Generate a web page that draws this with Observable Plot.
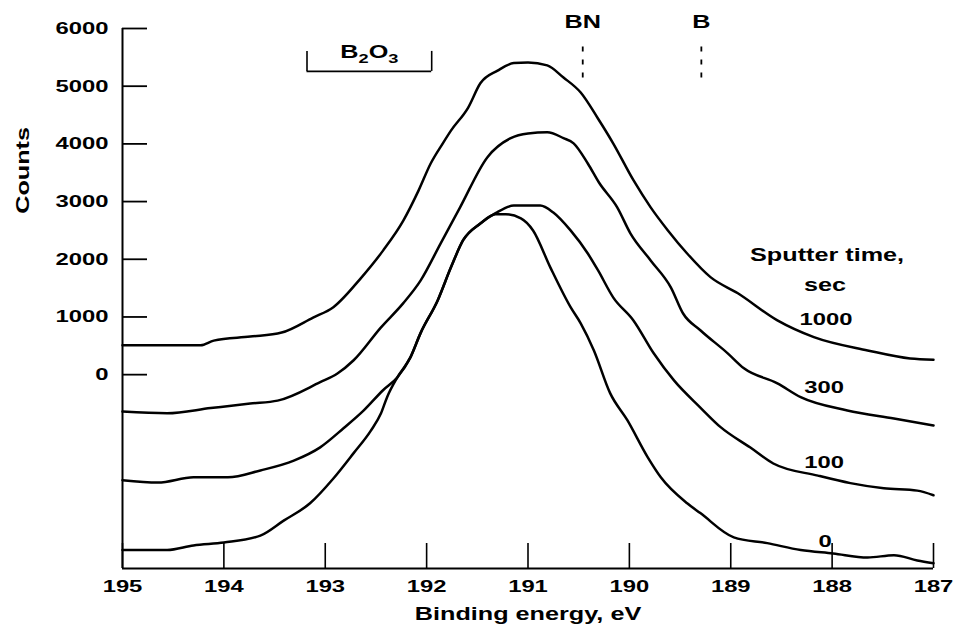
<!DOCTYPE html>
<html>
<head>
<meta charset="utf-8">
<script src="https://cdn.jsdelivr.net/npm/d3@7"></script>
<script src="https://cdn.jsdelivr.net/npm/@observablehq/plot@0.6"></script>
<style>
  html, body { margin: 0; padding: 0; background: #fff; }
  #chart svg { display: block; }
</style>
</head>
<body>
<div id="chart"></div>
<script>
// ---- Data (binding energy in eV, counts) ----
const energy1000 = [195.00,194.63,194.23,194.10,193.74,193.43,193.12,192.92,192.65,192.43,192.23,192.08,191.96,191.84,191.76,191.59,191.47,191.30,191.14,191.00,190.81,190.65,190.48,190.31,190.16,189.96,189.79,189.62,189.43,189.20,188.93,188.54,188.18,187.65,187.23,187.00];
const counts1000 = [510,510,510,590,660,730,990,1170,1670,2150,2670,3190,3660,4010,4230,4630,5050,5270,5400,5410,5360,5150,4890,4440,4010,3370,2900,2500,2100,1690,1410,940,650,420,280,260];

const energy300 = [195.00,194.56,194.13,193.74,193.47,193.05,192.88,192.72,192.45,192.23,192.06,191.86,191.67,191.40,191.17,191.00,190.81,190.65,190.55,190.41,190.30,190.12,189.99,189.79,189.59,189.47,189.30,189.03,188.87,188.54,188.31,187.85,187.39,187.00];
const counts300 = [-640,-670,-580,-500,-450,-130,20,250,820,1240,1630,2280,2900,3770,4100,4180,4200,4100,4010,3660,3330,2900,2450,1980,1510,1060,770,370,110,-150,-390,-620,-760,-880];

const energy100 = [195.00,194.65,194.30,193.96,193.64,193.31,193.05,192.82,192.62,192.43,192.29,192.16,192.06,191.89,191.76,191.64,191.47,191.32,191.14,190.88,190.75,190.58,190.41,190.31,190.16,189.96,189.76,189.56,189.30,189.10,188.81,188.58,188.14,187.82,187.49,187.16,187.00];
const counts100 = [-1830,-1870,-1780,-1780,-1660,-1490,-1260,-930,-620,-270,-50,300,720,1290,1860,2330,2620,2800,2930,2930,2810,2500,2100,1810,1340,940,370,-100,-570,-910,-1260,-1540,-1750,-1880,-1970,-2010,-2090];

const energy0 = [195.00,194.56,194.30,194.00,193.64,193.41,193.15,192.92,192.72,192.55,192.45,192.39,192.29,192.16,192.06,191.89,191.76,191.64,191.47,191.32,191.22,191.07,190.95,190.78,190.58,190.48,190.35,190.19,190.02,189.82,189.69,189.43,189.30,188.97,188.64,188.31,187.99,187.65,187.39,187.16,187.00];
const counts0 = [-3040,-3040,-2960,-2910,-2790,-2530,-2230,-1800,-1360,-970,-670,-390,-50,300,720,1290,1860,2330,2620,2780,2780,2710,2500,1860,1170,890,420,-320,-790,-1430,-1780,-2230,-2400,-2820,-2920,-3040,-3100,-3170,-3130,-3220,-3270];

const seriesNames = ["1000", "300", "100", "0"];
const xTicks = [195, 194, 193, 192, 191, 190, 189, 188, 187];
const yTicks = [0, 1000, 2000, 3000, 4000, 5000, 6000];
const xDomain = [195, 187];
const yDomain = [-3360, 6000];

// Annotations (data coordinates)
const seriesLabelEnergy = [188.06, 188.08, 188.08, 188.07];
const seriesLabelCounts = [960, -220, -1520, -2900];
const legendTitle = ["Sputter time,", "sec"];
const legendTitleEnergy = [188.05, 188.07];
const legendTitleCounts = [2070, 1550];
const refLabels = ["BN", "B"];
const refEnergy = [190.46, 189.29];
const refDashCounts = [5140, 5760];
const refLabelCounts = 6110;
const b2o3Energy = [193.18, 191.95];
const b2o3Counts = [5256, 5603];
const b2o3LabelCounts = 5590;
const countsLabelCounts = 3540;

// ---- Build tables ----
const seriesData = [
  {name: "1000", energy: energy1000, counts: counts1000},
  {name: "300", energy: energy300, counts: counts300},
  {name: "100", energy: energy100, counts: counts100},
  {name: "0", energy: energy0, counts: counts0}
];
const rows = seriesData.flatMap(s => s.energy.map((e, i) => ({series: s.name, energy: e, counts: s.counts[i]})));
const seriesLabels = seriesNames.map((n, i) => ({text: n, energy: seriesLabelEnergy[i], counts: seriesLabelCounts[i]}));
const legendRows = legendTitle.map((t, i) => ({text: t, energy: legendTitleEnergy[i], counts: legendTitleCounts[i]}));
const refs = refLabels.map((l, i) => ({label: l, energy: refEnergy[i]}));
const b2o3 = {from: b2o3Energy[0], to: b2o3Energy[1], base: b2o3Counts[0], top: b2o3Counts[1]};

// ---- Layout ----
const W = 957, H = 634;
const mL = 122, mR = 24, mT = 28, mB = 66;
const pxPerEV = (W - mL - mR) / (xDomain[0] - xDomain[1]);
const pxPerCount = (H - mT - mB) / (yDomain[1] - yDomain[0]);
const tickLen = 25;
const ink = "#000";
const stretch = 1.4; // the original lettering is horizontally wide

const chart = Plot.plot({
  width: W,
  height: H,
  marginLeft: mL,
  marginRight: mR,
  marginTop: mT,
  marginBottom: mB,
  style: {fontFamily: "'Liberation Sans', Arial, sans-serif", fontWeight: "bold", fontSize: "17px", color: ink, background: "#fff", overflow: "visible"},
  x: {domain: xDomain},
  y: {domain: yDomain},
  marks: [
    // axis lines
    Plot.ruleX([xDomain[0]], {y1: yDomain[0], y2: yDomain[1], stroke: ink, strokeWidth: 2}),
    Plot.ruleY([yDomain[0]], {stroke: ink, strokeWidth: 2}),
    // inward ticks
    Plot.ruleY(yTicks, {x1: xDomain[0], x2: xDomain[0] - tickLen / pxPerEV, stroke: ink, strokeWidth: 1.8}),
    Plot.ruleX(xTicks, {y1: yDomain[0], y2: yDomain[0] + tickLen / pxPerCount, stroke: ink, strokeWidth: 1.6}),
    // tick labels
    Plot.axisY(yTicks, {tickSize: 0, tickPadding: 14, tickFormat: d3.format("d"), label: null, fontSize: 17, fontWeight: "bold"}),
    Plot.axisX(xTicks, {tickSize: 0, tickPadding: 11, tickFormat: d3.format("d"), label: null, fontSize: 17, fontWeight: "bold"}),
    // axis titles
    Plot.text(["Binding energy, eV"], {frameAnchor: "bottom", dy: 51, fontSize: 18, fontWeight: "bold", fill: ink}),
    Plot.text(["Counts"], {frameAnchor: "left", y: () => countsLabelCounts, rotate: -90, dx: -99, textAnchor: "middle", fontSize: 18, fontWeight: "bold", fill: ink}),
    // spectra
    Plot.line(rows, {x: "energy", y: "counts", z: "series", stroke: ink, strokeWidth: 2.5, curve: "monotone-x"}),
    // series labels
    Plot.text(seriesLabels, {x: "energy", y: "counts", text: "text", fontSize: 17, fontWeight: "bold", fill: ink}),
    Plot.text(legendRows, {x: "energy", y: "counts", text: "text", fontSize: 18, fontWeight: "bold", fill: ink}),
    // reference positions
    Plot.ruleX(refs, {x: "energy", y1: refDashCounts[0], y2: refDashCounts[1], stroke: ink, strokeWidth: 1.8, strokeDasharray: "5,8"}),
    Plot.text(refs, {x: "energy", y: () => refLabelCounts, text: "label", fontSize: 18, fontWeight: "bold", fill: ink}),
    // B2O3 bracket
    Plot.ruleY([b2o3.base], {x1: b2o3.from, x2: b2o3.to, stroke: ink, strokeWidth: 1.6}),
    Plot.ruleX([b2o3.from, b2o3.to], {y1: b2o3.base, y2: b2o3.top, stroke: ink, strokeWidth: 1.6}),
    Plot.text(["B2O3"], {x: () => (b2o3.from + b2o3.to) / 2, y: () => b2o3LabelCounts, fontSize: 18, fontWeight: "bold", fill: ink})
  ]
});

// subscripts for B2O3
chart.querySelectorAll("text").forEach(t => {
  if (t.textContent === "B2O3") {
    t.innerHTML = 'B<tspan dy="5" font-size="13">2</tspan><tspan dy="-5">O</tspan><tspan dy="5" font-size="13">3</tspan>';
  }
});

document.getElementById("chart").appendChild(chart);

// widen lettering horizontally (the original type is wide)
chart.querySelectorAll("text").forEach(t => {
  const len = t.getComputedTextLength();
  if (len > 0) {
    t.setAttribute("textLength", (len * stretch).toFixed(1));
    t.setAttribute("lengthAdjust", "spacingAndGlyphs");
  }
});
</script>
</body>
</html>
